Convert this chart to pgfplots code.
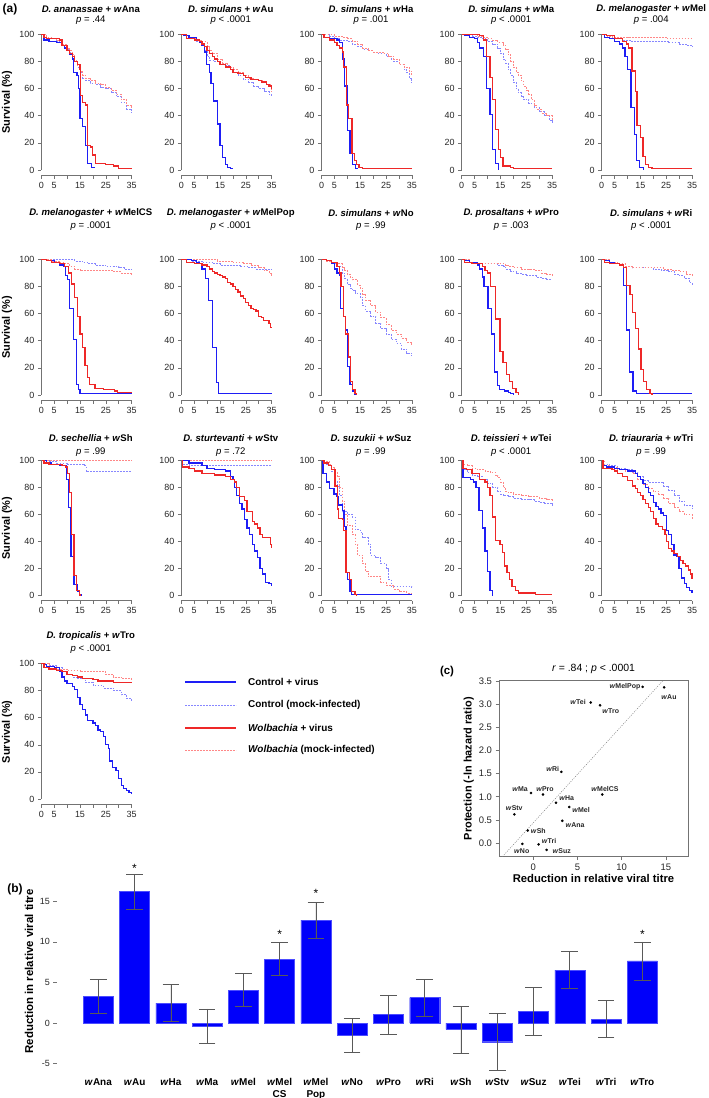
\documentclass[border=0pt]{standalone}
\usepackage{fontspec}
\setmainfont{Liberation Sans}
\usepackage{pgfplots}
\usepackage{pgfplotstable}
\pgfplotsset{compat=1.18}

\definecolor{cblue}{RGB}{30,30,245}
\definecolor{cred}{RGB}{238,40,40}
\definecolor{lblue}{RGB}{135,135,255}
\definecolor{lred}{RGB}{255,135,135}
\definecolor{axg}{RGB}{115,115,115}
\definecolor{barb}{RGB}{0,0,250}

\pgfplotsset{
 surv/.style={scale only axis, anchor=south west, width=90.3bp, height=140.5bp,
  xmin=0, xmax=35, ymin=-3.7, ymax=100, clip=false,
  axis x line*=bottom, axis y line*=left, axis line style={draw=none},
  tick align=outside, major tick length=3.5bp, tick style={axg, line width=0.6bp},
  xtick={0,5,...,35}, xticklabels={0,5,,15,,25,,35}, ytick={0,20,...,100},
  ticklabel style={font=\fontsize{9}{10}\selectfont, text=black!85},
  /pgf/number format/assume math mode=true,
  extra description/.code={\draw[axg,line width=0.6bp] (0,0)--(1,0); \draw[axg,line width=0.6bp] (0,0.03568)--(0,1);}
 },
 bs/.style={const plot, cblue, line width=1.25bp, mark=none},
 rs/.style={const plot, cred, line width=1.25bp, mark=none},
 bd/.style={const plot, lblue, line width=0.7bp, dash pattern=on 1.8bp off 1.2bp, mark=none},
 rd/.style={const plot, lred, line width=0.7bp, dash pattern=on 1.8bp off 1.2bp, mark=none},
}
\tikzset{
 ttl/.style={font=\fontsize{9.6}{11}\selectfont\bfseries, inner sep=0},
 pv/.style={font=\fontsize{9.6}{11}\selectfont, inner sep=0},
 slab/.style={font=\fontsize{7}{8}\selectfont\bfseries, inner sep=0, text=black!85},
}

\pgfplotstableread{
x y ep em
0 3.3 2.1 2.1
1 16.17 2.15 2.15
2 2.46 2.3 2.3
3 -0.4 2.15 2.15
4 4.06 2.05 2.05
5 7.88 2.0 2.0
6 12.68 2.2 2.2
7 -1.48 2.1 2.1
8 1.07 2.4 2.4
9 3.12 2.3 2.3
10 -0.78 2.9 2.9
11 -2.3 3.5 3.5
12 1.44 2.9 2.9
13 6.53 2.25 2.25
14 0.49 2.3 2.3
15 7.64 2.35 2.35
}\bars

\pgfplotstableread{
x y
3.28 0.48
14.8 3.37
2.57 0.87
-0.26 1.08
4.07 0.78
7.8 1.05
12.37 3.38
-1.24 -0.02
1.1 1.05
3.17 1.54
-0.63 0.27
-2.15 0.62
1.5 -0.15
6.5 3.04
0.6 -0.03
7.55 2.98
}\scat

\begin{document}
\begin{tikzpicture}
\useasboundingbox (0,0) rectangle (709bp,-1098bp);

% ---------------- Row 1 ----------------
\begin{axis}[surv, at={(41.3bp,-175bp)}]
\addplot[bd] coordinates {(0,100)(2,98)(4,97)(6,95)(8,92)(10,89)(11,87)(12,84)(13,80)(14,76)(15,72)(16,68)(17,66)(19,64)(21,63)(23,61)(25,60)(27,57)(29,54)(31,50)(33,45)(35,42)};
\addplot[rd] coordinates {(0,100)(2,98)(4,97)(6,96)(8,93)(10,90)(11,88)(12,85)(13,81)(14,77)(15,73)(16,70)(17,68)(19,66)(21,64)(23,63)(25,61)(27,59)(29,56)(31,52)(33,48)(35,46)};
\addplot[bs] coordinates {(0,100)(1,96)(3,95)(6,94)(8,92)(9,90)(10,88)(11,85)(12,82)(12.6,72)(13.8,70)(14.3,60)(15,38)(16,32)(17,18)(18,5)(19.5,2)(21,2)};
\addplot[rs] coordinates {(0,100)(1,98)(2,97)(7,96)(8,92)(10,88)(11,86)(12,84)(13,80)(14,78)(15,74)(15.3,55)(16,50)(17,48)(18,18)(19,17)(19.8,11)(21,5)(25,4)(28,3)(30,1)(35,1)};
\end{axis}
\node[ttl] at (90.8bp,-9bp) {\textit{D. ananassae} + \textit{w}Ana};
\node[pv] at (90.8bp,-20bp) {\textit{p} = .44};

\begin{axis}[surv, at={(181.3bp,-175bp)}]
\addplot[bd] coordinates {(0,100)(2,98)(4,97)(6,95)(8,92)(9,88)(10,84)(11,81)(13,80)(15,79)(17,77)(19,76)(20,72)(22,70)(24,67)(26,65)(28,62)(30,60)(32,58)(34,56)(35,54)};
\addplot[rd] coordinates {(0,100)(2,98)(4,97)(6,96)(8,95)(10,91)(11,88)(12,86)(14,82)(16,79)(18,76)(20,74)(22,72)(24,70)(26,68)(28,67)(30,66)(32,65)(33,63)(35,58)};
\addplot[bs] coordinates {(0,100)(1,99)(3,98)(6,96)(7,94)(8,92)(8.9,87)(9.7,78)(10.8,72)(11.5,64)(12.5,51)(14,34)(15,18)(16,9)(17,4)(18,2)(19,1)(20,1)};
\addplot[rs] coordinates {(0,100)(2,97)(5,96)(7,95)(8,93)(9,91)(10,88)(11,86)(12,84)(13,82)(14,80)(15,78)(17,76)(19,74)(20,72)(22,71)(24,70)(25,68)(27,67)(29,67)(30,66)(31,65)(33,63)(34,62)(35,60)};
\end{axis}
\node[ttl] at (230.8bp,-9bp) {\textit{D. simulans} + \textit{w}Au};
\node[pv] at (230.8bp,-20bp) {\textit{p} < .0001};

\begin{axis}[surv, at={(321.5bp,-175bp)}]
\addplot[bd] coordinates {(0,100)(3,99)(5,97)(7,96)(10,95)(12,93)(14,91)(16,89)(18,88)(20,87)(22,86)(24,86)(25,84)(27,82)(28,80)(30,78)(32,74)(33,72)(34,68)(35,64)};
\addplot[rd] coordinates {(0,100)(5,99)(8,98)(10,97)(12,95)(14,93)(16,90)(18,88)(20,87)(22,87)(24,86)(26,84)(28,82)(30,78)(32,76)(34,73)(35,70)};
\addplot[bs] coordinates {(0,100)(1,98)(3,97)(6,96)(7,94)(8,82)(9,62)(10,29)(11,12)(11.9,4)(13.2,1)(14,1)};
\addplot[rs] coordinates {(0,100)(1,98)(3,96)(5,94)(6,92)(7,90)(8,87)(8.4,76)(9.6,48)(10.5,38)(11.8,12)(12.8,7)(13.5,4)(14.5,2)(16,1)(35,1)};
\end{axis}
\node[ttl] at (371bp,-9bp) {\textit{D. simulans} + \textit{w}Ha};
\node[pv] at (371bp,-20bp) {\textit{p} = .001};

\begin{axis}[surv, at={(461.7bp,-175bp)}]
\addplot[bd] coordinates {(0,100)(4,99)(6,98)(8,97)(10,95)(12,93)(14,90)(15,86)(16,82)(17,79)(18,74)(19,70)(20,65)(21,60)(22,57)(23,54)(24,52)(26,49)(28,46)(30,43)(32,40)(34,37)(35,35)};
\addplot[rd] coordinates {(0,100)(6,99)(8,98)(10,97)(12,96)(14,94)(16,92)(17,89)(18,85)(19,80)(20,76)(21,72)(22,70)(23,66)(24,62)(25,59)(26,56)(27,52)(28,48)(29,45)(31,42)(33,40)(35,37)};
\addplot[bs] coordinates {(0,100)(1,99)(3,98)(5,97)(6,94)(7,90)(8.4,84)(9.7,60)(11,41)(12,15)(13,5)(14.4,0)};
\addplot[rs] coordinates {(0,100)(5,100)(7,99)(8.5,96)(9.7,84)(11,68)(12,52)(13,30)(14.3,15)(15,9)(16,3)(18.8,2)(20,1)(35,1)};
\end{axis}
\node[ttl] at (511.2bp,-9bp) {\textit{D. simulans} + \textit{w}Ma};
\node[pv] at (511.2bp,-20bp) {\textit{p} < .0001};

\begin{axis}[surv, at={(601.7bp,-175bp)}]
\addplot[bd] coordinates {(0,100)(2,99)(4,98)(6,97)(8,96)(11,95)(20,95)(26,94)(30,93)(33,92)(35,91)};
\addplot[rd] coordinates {(0,100)(2,99)(4,98)(10,98)(25,97)(35,97)};
\addplot[bs] coordinates {(0,100)(1,98)(3,97)(5,95)(7,93)(8,90)(9,84)(10,74)(11.4,46)(12.6,26)(13.6,7)(14.7,2)(16.2,0)};
\addplot[rs] coordinates {(0,100)(2,99)(5,97)(8,95)(9.5,93)(10.5,90)(11.7,73)(13,58)(13.7,33)(14.9,24)(16,10)(16.9,4)(18,2)(19.5,1)(35,1)};
\end{axis}
\node[ttl] at (651.2bp,-9bp) {\textit{D. melanogaster} + \textit{w}Mel};
\node[pv] at (651.2bp,-20bp) {\textit{p} = .004};

% ---------------- Row 2 ----------------
\begin{axis}[surv, at={(41.3bp,-400bp)}]
\addplot[bd] coordinates {(0,100)(10,100)(13,99)(16,98)(18,97)(21,96)(25,95)(28,95)(30,94)(32,93)(35,92)};
\addplot[rd] coordinates {(0,100)(4,99)(7,98)(9,97)(11,95)(13,93)(15,92)(25,92)(28,91)(31,90)(35,89)};
\addplot[bs] coordinates {(0,100)(2,99)(5,98)(7,96)(8.5,95)(9.5,88)(10.2,85)(10.8,64)(12.4,41)(13.7,8)(14.3,4)(15,1)(35,1)};
\addplot[rs] coordinates {(0,100)(2,99)(4,98)(7,97)(9,95)(10.5,90)(11.8,82)(13,72)(14,58)(15,45)(15.9,35)(16.9,22)(17.8,13)(18.8,8)(20.8,5)(24,4)(28.5,3)(29.5,2)(35,2)};
\end{axis}
\node[ttl] at (90.8bp,-213bp) {\textit{D. melanogaster} + \textit{w}MelCS};
\node[pv] at (90.8bp,-226bp) {\textit{p} = .0001};

\begin{axis}[surv, at={(181.3bp,-400bp)}]
\addplot[bd] coordinates {(0,100)(4,99)(8,98)(12,97)(15,96)(20,96)(23,95)(26,94)(29,93)(32,93)(35,92)};
\addplot[rd] coordinates {(0,100)(8,100)(14,99)(20,98)(24,97)(27,96)(30,94)(32,92)(34,90)(35,87)};
\addplot[bs] coordinates {(0,100)(4,99)(6,98)(7,97)(8,93)(9.3,86)(10.6,70)(12.1,35)(13.5,9)(14.4,1)(35,1)};
\addplot[rs] coordinates {(0,100)(2,98)(5,97)(8,96)(10,95)(11,93)(12,91)(13,90)(14,89)(15,88)(16,87)(17,86)(18,83)(19,82)(20,80)(21,78)(22,76)(23,73)(24,71)(25,68)(26,66)(27,64)(28,63)(29,62)(30,58)(31,57)(32,55)(33,55)(34,53)(34.7,50)(35,50)};
\end{axis}
\node[ttl] at (230.8bp,-213bp) {\textit{D. melanogaster} + \textit{w}MelPop};
\node[pv] at (230.8bp,-226bp) {\textit{p} < .0001};

\begin{axis}[surv, at={(321.5bp,-400bp)}]
\addplot[bd] coordinates {(0,100)(2,99)(4,97)(6,95)(8,90)(9,86)(10,82)(11,79)(12,77)(13,75)(15,72)(16,66)(17,62)(19,58)(21,53)(23,49)(25,45)(27,41)(29,38)(31,34)(33,31)(35,29)};
\addplot[rd] coordinates {(0,100)(2,99)(4,98)(6,97)(8,94)(9,92)(10,89)(11,87)(12,85)(14,81)(15,79)(16,74)(17,70)(19,66)(21,61)(23,57)(25,52)(27,48)(29,45)(31,42)(33,39)(35,37)};
\addplot[bs] coordinates {(0,100)(2,99)(4,97)(5,93)(6,90)(7,88)(7.5,64)(8.5,58)(9.3,48)(10,21)(11,8)(12,3)(13,0)};
\addplot[rs] coordinates {(0,100)(2,99)(4,98)(6,95)(7,90)(7.6,80)(8.5,58)(9.3,45)(10.5,28)(11.2,10)(12,4)(13,1)(13.5,0)};
\end{axis}
\node[ttl] at (371bp,-213bp) {\textit{D. simulans} + \textit{w}No};
\node[pv] at (371bp,-226bp) {\textit{p} = .99};

\begin{axis}[surv, at={(461.7bp,-400bp)}]
\addplot[bd] coordinates {(0,100)(3,98)(6,97)(10,97)(14,96)(16,95)(17,93)(19,91)(21,90)(23,89)(25,88)(27,88)(29,87)(31,86)(33,85)(35,85)};
\addplot[rd] coordinates {(0,100)(3,98)(6,97)(14,97)(17,96)(18,95)(20,94)(23,93)(26,93)(28,92)(31,90)(33,89)(35,88)};
\addplot[bs] coordinates {(0,100)(1,99)(3,98)(6,96)(7,93)(8,87)(8.6,80)(10.2,64)(11.5,45)(12.7,17)(13.8,7)(14.7,4)(16.5,3)(18,2)(19,1)(20,0)};
\addplot[rs] coordinates {(0,100)(1,98)(4,97)(8,95)(9,92)(10,90)(11.2,80)(13.1,56)(14.8,32)(16,24)(17.4,15)(18.6,10)(19.8,5)(21,2)(22,0)};
\end{axis}
\node[ttl] at (511.2bp,-213bp) {\textit{D. prosaltans} + \textit{w}Pro};
\node[pv] at (511.2bp,-226bp) {\textit{p} = .003};

\begin{axis}[surv, at={(601.7bp,-400bp)}]
\addplot[bd] coordinates {(0,100)(3,98)(6,97)(9,95)(12,94)(16,94)(20,93)(23,92)(26,91)(28,89)(30,88)(32,86)(34,83)(35,81)};
\addplot[rd] coordinates {(0,100)(3,98)(6,97)(9,95)(12,94)(20,94)(24,93)(27,92)(30,91)(33,89)(35,87)};
\addplot[bs] coordinates {(0,100)(1,99)(3,98)(5,97)(7,96)(8.4,81)(9.7,48)(10.8,17)(12.1,3)(13.4,1)(35,1)};
\addplot[rs] coordinates {(0,100)(1,98)(3,97)(7,96)(8.4,94)(9.7,81)(11,74)(12,61)(13,49)(14.2,34)(15.2,19)(16.1,10)(17.4,4)(18.7,1)(19.5,0)};
\end{axis}
\node[ttl] at (651.2bp,-213bp) {\textit{D. simulans} + \textit{w}Ri};
\node[pv] at (651.2bp,-226bp) {\textit{p} < .0001};

% ---------------- Row 3 ----------------
\begin{axis}[surv, at={(41.3bp,-600.7bp)}]
\addplot[bd] coordinates {(0,100)(3,99)(6,98)(10,97)(16.5,96)(17.3,92)(35,92)};
\addplot[rd] coordinates {(0,100)(35,100)};
\addplot[bs] coordinates {(0,100)(2,98)(4,97)(7,96)(9.8,86)(10.6,65)(11.5,29)(12.7,8)(14,3)(14.7,1)(15.6,0)};
\addplot[rs] coordinates {(0,100)(1,98)(3,97)(8,96)(9.5,95)(10.2,90)(10.9,76)(11.7,45)(12.7,15)(13.7,4)(14.7,1)(15,0)};
\end{axis}
\node[ttl] at (90.8bp,-438bp) {\textit{D. sechellia} + \textit{w}Sh};
\node[pv] at (90.8bp,-452bp) {\textit{p} = .99};

\begin{axis}[surv, at={(181.3bp,-600.7bp)}]
\addplot[bd] coordinates {(0,100)(0.5,97)(3,96)(35,96)};
\addplot[rd] coordinates {(0,100)(35,100)};
\addplot[bs] coordinates {(0,100)(3,98)(8,96)(10,94)(13,93)(17,92)(19,88)(20,86)(20.5,80)(21.5,74)(22.5,68)(23.5,64)(24.5,56)(25.5,50)(26.5,45)(27.5,38)(28.5,33)(29.5,28)(30.5,20)(31.5,16)(32.5,10)(34,9)(35,7)};
\addplot[rs] coordinates {(0,100)(0.5,95)(3,94)(5,92)(8,90)(13,89)(17,88)(19,86)(20.5,84)(21.5,80)(22.5,73)(24.5,70)(25.5,62)(27.5,55)(28.5,53)(29.5,50)(30.5,45)(31.5,43)(34,43)(34.5,38)(35,35)};
\end{axis}
\node[ttl] at (230.8bp,-438bp) {\textit{D. sturtevanti} + \textit{w}Stv};
\node[pv] at (230.8bp,-452bp) {\textit{p} = .72};

\begin{axis}[surv, at={(321.5bp,-600.7bp)}]
\addplot[bd] coordinates {(0,100)(1,99)(2,97)(4,92)(5,85)(6,81)(7,74)(8,62)(10,60)(12,58)(13,49)(15,47)(16,43)(18,38)(19,30)(21,28)(23,24)(25,20)(26,12)(27,7)(35,6)};
\addplot[rd] coordinates {(0,100)(1,99)(3,97)(4,95)(5,92)(6,88)(7,80)(8,70)(9,60)(10,52)(12,45)(13,38)(14,30)(16,24)(17,18)(18,14)(21,14)(23,10)(25,8)(28,5)(30,3)(33,2)(35,2)};
\addplot[bs] coordinates {(0,100)(0.6,90)(2,84)(3.2,79)(4.8,75)(5.8,73)(6.7,67)(8,63)(8.7,51)(9.5,17)(10,12)(11,3)(11.7,1)(35,1)};
\addplot[rs] coordinates {(0,100)(1,98)(2.6,96)(4,93)(5.2,81)(6.1,64)(6.7,57)(8.2,56)(8.6,48)(9.5,17)(10.8,12)(11.7,3)(13,1)(13.6,0)};
\end{axis}
\node[ttl] at (371bp,-438bp) {\textit{D. suzukii} + \textit{w}Suz};
\node[pv] at (371bp,-452bp) {\textit{p} = .99};

\begin{axis}[surv, at={(461.7bp,-600.7bp)}]
\addplot[bd] coordinates {(0,100)(0.5,93)(2,91)(4,89)(6,88)(8,86)(10,83)(12,80)(14,77)(15,75)(16,74)(18,73)(20,72)(23,71)(26,71)(28,70)(30,69)(32,68)(35,66)};
\addplot[rd] coordinates {(0,100)(0.5,97)(2,96)(4,94)(6,93)(9,92)(11,91)(13,89)(14,87)(15,84)(16,80)(17,77)(18,76)(20,75)(23,74)(26,73)(30,72)(33,71)(35,70)};
\addplot[bs] coordinates {(0,100)(0.5,87)(3.5,86)(4.5,84)(5.5,80)(6.7,63)(8,50)(9,33)(10,18)(11,4)(11.9,0)};
\addplot[rs] coordinates {(0,100)(0.5,94)(2,93)(4,90)(7,86)(9,84)(10,80)(11,74)(12,58)(13.1,41)(14.8,38)(15.7,32)(16.6,22)(17.6,17)(18.6,12)(19.5,7)(20.8,4)(22,2)(28.5,1)(35,1)};
\end{axis}
\node[ttl] at (511.2bp,-438bp) {\textit{D. teissieri} + \textit{w}Tei};
\node[pv] at (511.2bp,-452bp) {\textit{p} < .0001};

\begin{axis}[surv, at={(601.7bp,-600.7bp)}]
\addplot[bd] coordinates {(0,100)(1,97)(3,96)(6,94)(9,93)(12,91)(14,88)(16,85)(18,84)(22,84)(24,81)(26,78)(28,74)(30,70)(32,67)(35,64)};
\addplot[rd] coordinates {(0,100)(1,96)(3,95)(6,93)(9,92)(12,90)(14,86)(16,82)(18,79)(20,77)(22,75)(24,72)(26,68)(28,65)(30,62)(32,60)(35,56)};
\addplot[bs] coordinates {(0,100)(0.5,96)(2,95)(5,94)(7,93)(10,92)(13,90)(14,88)(15,86)(16,83)(17,80)(18,76)(19,74)(20,69)(21,66)(22,64)(23,61)(24,59)(25,48)(26,45)(27,38)(28,30)(29,29)(30,20)(31,13)(32,9)(33,6)(34,4)(35,2)};
\addplot[rs] coordinates {(0,100)(0.5,94)(4,93)(5,92)(6,90)(8,88)(10,85)(12,81)(13,79)(14,76)(15,74)(16,71)(17,68)(18,65)(19,62)(20,57)(21,53)(22,51)(23.5,49)(24.5,45)(25,40)(26,35)(27,33)(28,31)(29.5,29)(30.5,26)(31.5,24)(32.5,22)(33.5,19)(34.5,16)(35,12)};
\end{axis}
\node[ttl] at (651.2bp,-438bp) {\textit{D. triauraria} + \textit{w}Tri};
\node[pv] at (651.2bp,-452bp) {\textit{p} = .99};

% ---------------- Row 4 ----------------
\begin{axis}[surv, at={(41.3bp,-804bp)}]
\addplot[bd] coordinates {(0,100)(3,99)(6,97)(8,94)(10,92)(12,90)(14,89)(17,86)(20,84)(24,82)(28,80)(31,77)(33,74)(35,72)};
\addplot[rd] coordinates {(0,100)(3,98)(6,96)(10,95)(15,94)(20,94)(25,92)(28,90)(31,89)(35,87)};
\addplot[bs] coordinates {(0,100)(1,99)(2,98)(5,97)(7,94)(8,90)(9,87)(10,85)(12,83)(13,81)(14,75)(15,70)(16,66)(17,62)(18,58)(20,56)(21,54)(22,51)(23,50)(24,46)(25,40)(26,37)(26.5,28)(27.5,23)(29,21)(30,15)(31,10)(32,8)(33,6)(34,5)(35,4)};
\addplot[rs] coordinates {(0,100)(1,97)(3,96)(6,95)(8,94)(10,92)(12,91)(14,90)(16,89)(20,88)(22,87)(28,86)(35,86)};
\end{axis}
\node[ttl] at (90.8bp,-636bp) {\textit{D. tropicalis} + \textit{w}Tro};
\node[pv] at (90.8bp,-649bp) {\textit{p} < .0001};

% y labels for survival
\foreach \yy in {102,327.5,528,731.7}{
 \node[rotate=90, font=\fontsize{11}{12}\selectfont\bfseries] at (7bp,-\yy bp) {Survival (\%)};
}
\node[font=\fontsize{12}{13}\selectfont\bfseries] at (10bp,-9bp) {(a)};

% legend
\draw[cblue, line width=1.25bp] (185bp,-682bp) -- (236bp,-682bp);
\draw[lblue, line width=0.7bp, dash pattern=on 1.8bp off 1.2bp] (185bp,-705bp) -- (236bp,-705bp);
\draw[cred, line width=1.25bp] (185bp,-728bp) -- (236bp,-728bp);
\draw[lred, line width=0.7bp, dash pattern=on 1.8bp off 1.2bp] (185bp,-750bp) -- (236bp,-750bp);
\begin{scope}[every node/.style={anchor=west, font=\fontsize{10}{11}\selectfont\bfseries, inner sep=0}]
\node at (248bp,-682bp) {Control + virus};
\node at (248bp,-705bp) {Control (mock-infected)};
\node at (248bp,-728bp) {\textit{Wolbachia} + virus};
\node at (248bp,-750bp) {\textit{Wolbachia} (mock-infected)};
\end{scope}

% ---------------- Panel (c) ----------------
\begin{axis}[scale only axis, anchor=south west, at={(499bp,-856.7bp)}, width=189bp, height=176bp,
  xmin=-3.88, xmax=17.5, ymin=-0.297, ymax=3.513, clip=false,
  axis line style={axg, line width=0.6bp}, tick align=outside, major tick length=3.5bp,
  tick style={axg, line width=0.6bp}, xtick pos=bottom, ytick pos=left,
  xtick={0,5,10,15}, ytick={0,0.5,1,1.5,2,2.5,3,3.5},
  yticklabel style={/pgf/number format/.cd, fixed, fixed zerofill, precision=1},
  ticklabel style={font=\fontsize{9.5}{10}\selectfont, text=black!85},
  /pgf/number format/assume math mode=true,
  xlabel={Reduction in relative viral titre}, ylabel={Protection (-ln hazard ratio)},
  xlabel style={font=\fontsize{11.3}{12}\selectfont\bfseries, yshift=3bp},
  ylabel style={font=\fontsize{11}{12}\selectfont\bfseries, yshift=-2bp},
  title={\textit{r} = .84 ; \textit{p} < .0001},
  title style={font=\fontsize{10.5}{12}\selectfont, yshift=-2bp}]
\addplot[gray, line width=0.5bp, dash pattern=on 1bp off 1.3bp, mark=none] coordinates {(-3.5,-0.297)(14.65,3.513)};
\addplot[only marks, mark=*, mark size=1.1bp, black] table[x=x,y=y]{\scat};
\node[slab] at (axis cs:10.37,3.39) {\textit{w}MelPop};
\node[slab] at (axis cs:15.35,3.16) {\textit{w}Au};
\node[slab] at (axis cs:5.06,3.06) {\textit{w}Tei};
\node[slab] at (axis cs:8.76,2.86) {\textit{w}Tro};
\node[slab] at (axis cs:2.19,1.60) {\textit{w}Ri};
\node[slab] at (axis cs:-1.5,1.17) {\textit{w}Ma};
\node[slab] at (axis cs:1.32,1.17) {\textit{w}Pro};
\node[slab] at (axis cs:3.78,0.97) {\textit{w}Ha};
\node[slab] at (axis cs:5.4,0.72) {\textit{w}Mel};
\node[slab] at (axis cs:8.11,1.17) {\textit{w}MelCS};
\node[slab] at (axis cs:-2.15,0.76) {\textit{w}Stv};
\node[slab] at (axis cs:4.72,0.39) {\textit{w}Ana};
\node[slab] at (axis cs:0.57,0.27) {\textit{w}Sh};
\node[slab] at (axis cs:-1.31,-0.17) {\textit{w}No};
\node[slab] at (axis cs:1.78,0.04) {\textit{w}Tri};
\node[slab] at (axis cs:3.21,-0.17) {\textit{w}Suz};
\end{axis}
\node[font=\fontsize{11.5}{12}\selectfont\bfseries] at (447bp,-672bp) {(c)};

% ---------------- Panel (b) ----------------
\begin{axis}[scale only axis, anchor=south west, at={(56.95bp,-1074.2bp)}, width=621.65bp, height=205.5bp,
  xmin=-1.14, xmax=16, ymin=-6.3, ymax=19, clip=false,
  axis x line*=bottom, axis y line*=left, axis line style={draw=none},
  tick align=outside, major tick length=3.5bp, ytick style={axg, line width=0.6bp}, xtick style={draw=none},
  ytick={-5,0,5,10,15}, xtick={0,...,15},
  xticklabels={\textit{w}Ana,\textit{w}Au,\textit{w}Ha,\textit{w}Ma,\textit{w}Mel,\textit{w}Mel\\CS,\textit{w}Mel\\Pop,\textit{w}No,\textit{w}Pro,\textit{w}Ri,\textit{w}Sh,\textit{w}Stv,\textit{w}Suz,\textit{w}Tei,\textit{w}Tri,\textit{w}Tro},
  xticklabel style={font=\fontsize{10}{11.7}\selectfont\bfseries, align=center, anchor=north, yshift=3bp},
  yticklabel style={font=\fontsize{9}{10}\selectfont, text=black!85},
  /pgf/number format/assume math mode=true,
  ylabel={Reduction in relative viral titre},
  ylabel style={font=\fontsize{11.5}{12}\selectfont\bfseries}]
\addplot[ybar, bar width=30bp, fill=barb, draw=blue!70!white, line width=0.4bp,
  error bars/.cd, y dir=both, y explicit,
  error bar style={black!65, line width=0.6bp},
  error mark options={rotate=90, mark size=8.3bp, black!65, line width=0.6bp}]
  table[x=x, y=y, y error plus=ep, y error minus=em]{\bars};
\node[font=\fontsize{12}{13}\selectfont] at (axis cs:1,19.1) {*};
\node[font=\fontsize{12}{13}\selectfont] at (axis cs:5,10.9) {*};
\node[font=\fontsize{12}{13}\selectfont] at (axis cs:6,16.0) {*};
\node[font=\fontsize{12}{13}\selectfont] at (axis cs:15,10.9) {*};
\end{axis}
\node[font=\fontsize{12}{13}\selectfont\bfseries] at (15bp,-889bp) {(b)};

\end{tikzpicture}
\end{document}
